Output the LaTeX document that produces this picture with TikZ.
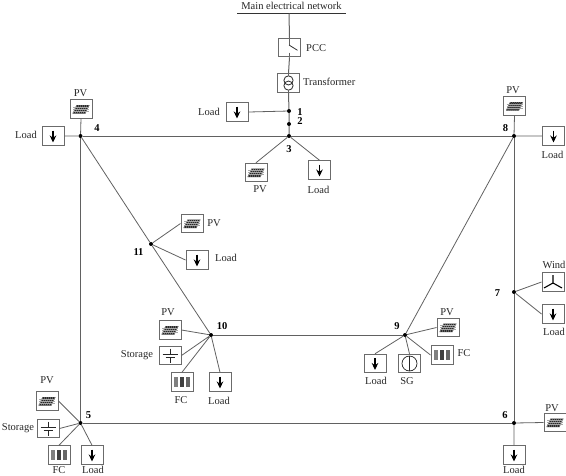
\documentclass[tikz,border=0pt]{standalone}
\usepackage{fontspec}
\setmainfont{Liberation Serif}
\usetikzlibrary{arrows.meta}
\definecolor{wire}{gray}{0.38}
\definecolor{edgec}{gray}{0.42}
\tikzset{
  x=1pt,y=-1pt,
  bus/.style={circle,fill=black,inner sep=0pt,minimum size=4pt},
  lbl/.style={font=\fontsize{10.5}{11}\selectfont,inner sep=0pt,text=black!85},
  num/.style={font=\fontsize{10.5}{11}\selectfont\bfseries,inner sep=0pt},
  mainw/.style={draw=wire,line width=1pt},
  thinw/.style={draw=wire,line width=0.8pt},
  box/.style={draw=edgec,line width=1pt,fill=white,minimum width=22pt,minimum height=18.5pt,inner sep=0pt},
  inbox/.style={shift={(path picture bounding box.center)}},
  loadbox/.style={box,path picture={\begin{scope}[inbox]
    \draw[black,line width=1.1pt,-{Stealth[length=7pt,width=6.5pt]}] (0,-5.5)--(0,6.5);
  \end{scope}}},
  pvbox/.style={box,path picture={\begin{scope}[inbox]
    \fill[black!85] (-8.5,4.5)--(-4.5,-4)--(8.5,-4)--(4.5,4.5)--cycle;
    \foreach \k in {-6,-4,-2,0,2,4,6}{\draw[black!35,line width=0.3pt] (\k-2,4.5)--(\k+2,-4);}
    \foreach \k in {-2,0,2}{\draw[black!35,line width=0.3pt] (-8,\k)--(8,\k);}
  \end{scope}}},
  storebox/.style={box,path picture={\begin{scope}[inbox]
    \draw[black!85,line width=0.8pt] (0,-7)--(0,-1.5) (-7.5,-1.5)--(7.5,-1.5) (-4.5,1.5)--(4.5,1.5) (0,1.5)--(0,7);
  \end{scope}}},
  fcbox/.style={box,path picture={\begin{scope}[inbox]
    \foreach \k/\c in {-6/50,0/75,6/60}{\fill[black!\c] (\k-2,-5)rectangle(\k+2,5);}
  \end{scope}}},
  windbox/.style={box,path picture={\begin{scope}[inbox]
    \draw[black,line width=1.1pt] (0,1)--(0,-7) (0,1)--(-9,6) (0,1)--(9,6);
  \end{scope}}},
  sgbox/.style={box,path picture={\begin{scope}[inbox]
    \draw[black!85,line width=0.7pt] (0,0) circle (7.5) (0,-7.5)--(0,7.5);
  \end{scope}}},
  xfbox/.style={box,path picture={\begin{scope}[inbox]
    \draw[black!85,line width=0.8pt] (0,-2.6) circle (4.6) (0,2.6) circle (4.6);
    \draw[wire,line width=1pt] (0,-9.5)--(0,-7.2) (0,7.2)--(0,9.5);
  \end{scope}}},
  pccbox/.style={box,path picture={\begin{scope}[inbox]
    \draw[wire,line width=1pt] (0,-10)--(0,-2.5) (0,5)--(0,10);
    \draw[black!80,line width=0.8pt] (-0.5,-2.5)--(8,2.8);
  \end{scope}}},
}
\begin{document}
\begin{tikzpicture}
\path[use as bounding box] (0,0) rectangle (566,475);
% main bar
\coordinate (barL) at (237,13.5);
\coordinate (barR) at (346,13.5);
\coordinate (barM) at (289,13.5);
% buses
\node[bus] (n1) at (289,111) {};
\node[bus] (n2) at (289,124) {};
\node[bus] (n3) at (289,136) {};
\node[bus] (n4) at (80.5,136) {};
\node[bus] (n5) at (80.5,423) {};
\node[bus] (n6) at (514,423) {};
\node[bus] (n7) at (514,292) {};
\node[bus] (n8) at (514,136) {};
\node[bus] (n9) at (405,335) {};
\node[bus] (n10) at (211,335) {};
\node[bus] (n11) at (151,244) {};
% boxes
\node[pccbox] (pcc) at (289.5,47.5) {};
\node[xfbox] (xf) at (288.5,83) {};
\node[loadbox] (l1) at (237,112) {};
\node[pvbox] (pv3) at (256,172.5) {};
\node[loadbox] (l3) at (319.5,170) {};
\node[pvbox] (pv4) at (81,109) {};
\node[loadbox] (l4) at (53,136) {};
\node[pvbox] (pv8) at (514.5,106) {};
\node[loadbox] (l8) at (553.5,136) {};
\node[pvbox] (pv11) at (192,223.5) {};
\node[loadbox] (l11) at (197,260) {};
\node[pvbox] (pv10) at (170,330) {};
\node[storebox] (st10) at (170,355.5) {};
\node[fcbox] (fc10) at (182,382) {};
\node[loadbox] (l10) at (220,382) {};
\node[pvbox] (pv9) at (448,327.5) {};
\node[fcbox] (fc9) at (442,355) {};
\node[sgbox] (sg9) at (409.5,363.5) {};
\node[loadbox] (l9) at (375,363.5) {};
\node[windbox] (w7) at (553,282) {};
\node[loadbox] (l7) at (553,314) {};
\node[pvbox] (pv5) at (47,401) {};
\node[storebox] (st5) at (48,428.5) {};
\node[fcbox] (fc5) at (59,455) {};
\node[loadbox] (l5) at (92,455) {};
\node[pvbox] (pv6) at (555,422.5) {};
\node[loadbox] (l6) at (514,455) {};
% connectors
\draw[mainw,line width=1.5pt,draw=black!80] (barL)--(barR);
\draw[mainw] (barM)--(pcc.north) (pcc.south)--(xf.north) (xf.south)--(n1) (n1)--(n2) (n2)--(n3);
\draw[mainw] (n4)--(n3) (n3)--(n8) (n8)--(n7) (n7)--(n6) (n6)--(n5) (n5)--(n4);
\draw[mainw] (n10)--(n9);
\draw[thinw] (n4)--(n11) (n11)--(n10) (n8)--(n9);
\draw[thinw] (n1)--(l1.east) (n3)--(pv3.north) (n3)--(l3.north);
\draw[thinw] (n4)--(pv4.south) (n4)--(l4.east);
\draw[thinw] (n8)--(pv8.south) (n8)--(l8.west);
\draw[thinw] (n11)--(pv11.west) (n11)--(l11.west);
\draw[thinw] (n10)--(pv10.east) (n10)--(st10.east) (n10)--(fc10.north) (n10)--(l10.north);
\draw[thinw] (n9)--(pv9.west) (n9)--(fc9.west) (n9)--(sg9.north) (n9)--(l9.north);
\draw[thinw] (n7)--(w7.west) (n7)--(l7.west);
\draw[thinw] (n5)--(pv5.east) (n5)--(st5.east) (n5)--(fc5.north) (n5)--(l5.north);
\draw[thinw] (n6)--(pv6.west) (n6)--(l6.north);
% texts
\node[lbl] (tMain) at (291.5,5.5) {Main electrical network};
\node[lbl,anchor=west] (tPCC) at (306,48) {PCC};
\node[lbl,anchor=west] (tXf) at (303,82) {Transformer};
\node[lbl,anchor=east] (tl1) at (220,112) {Load};
\node[lbl] (tpv3) at (260,189.5) {PV};
\node[lbl] (tl3) at (318.5,189.5) {Load};
\node[lbl] (tpv4) at (80.5,93.5) {PV};
\node[lbl] (tl4) at (26,135) {Load};
\node[lbl] (tpv8) at (513,90) {PV};
\node[lbl] (tl8) at (552.5,155) {Load};
\node[lbl] (tpv11) at (214,223) {PV};
\node[lbl] (tl11) at (226,257.5) {Load};
\node[lbl] (tpv10) at (168,312.5) {PV};
\node[lbl] (tst10) at (137,355.5) {Storage};
\node[lbl] (tfc10) at (181,400.5) {FC};
\node[lbl] (tl10) at (219,400.5) {Load};
\node[lbl] (tpv9) at (447,312) {PV};
\node[lbl] (tfc9) at (464,353) {FC};
\node[lbl] (tsg9) at (407,381) {SG};
\node[lbl] (tl9) at (376,381) {Load};
\node[lbl] (tw7) at (554,265) {Wind};
\node[lbl] (tl7) at (554,332) {Load};
\node[lbl] (tpv5) at (47,380.5) {PV};
\node[lbl] (tst5) at (18,428) {Storage};
\node[lbl] (tfc5) at (59,470) {FC};
\node[lbl] (tl5) at (93,470) {Load};
\node[lbl] (tpv6) at (552,408) {PV};
\node[lbl] (tl6) at (514,470) {Load};
\node[num] (t1) at (300,112) {1};
\node[num] (t2) at (300,121.5) {2};
\node[num] (t3) at (289,149) {3};
\node[num] (t4) at (97,128) {4};
\node[num] (t5) at (88.5,415) {5};
\node[num] (t6) at (505,415) {6};
\node[num] (t7) at (497.5,293) {7};
\node[num] (t8) at (505.5,128) {8};
\node[num] (t9) at (397,326) {9};
\node[num] (t10) at (222,326) {10};
\node[num] (t11) at (138.5,252) {11};
\end{tikzpicture}
\end{document}
